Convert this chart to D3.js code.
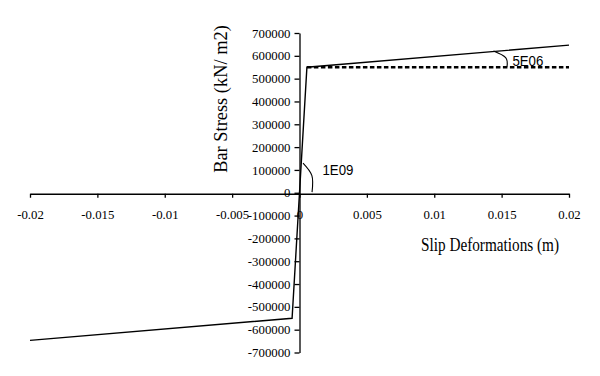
<!DOCTYPE html>
<html>
<head>
<meta charset="utf-8">
<script src="https://cdn.jsdelivr.net/npm/d3@7"></script>
<style>
  html, body { margin: 0; padding: 0; background: #fff; }
  svg { display: block; }
</style>
</head>
<body>
<svg id="chart" width="600" height="376"></svg>
<script>
// ---- data ----
const slipX = [-0.02, -0.00055, 0.00055, 0.02];
const stressY = [-647000, -550000, 550000, 647000];
const dashedX = [0.00055, 0.02];
const dashedY = [550000, 550000];
const xTicks = [-0.02, -0.015, -0.01, -0.005, 0, 0.005, 0.01, 0.015, 0.02];
const xTickLabels = ["-0.02", "-0.015", "-0.01", "-0.005", "0", "0.005", "0.01", "0.015", "0.02"];
const yTicks = [-700000, -600000, -500000, -400000, -300000, -200000, -100000, 0,
                100000, 200000, 300000, 400000, 500000, 600000, 700000];
const yTickLabels = yTicks.map(String);
const xTitle = "Slip Deformations (m)";
const yTitle = "Bar Stress (kN/ m2)";
// annotation arcs (data units) and labels
const arc1 = [[0.00026, 130000], [0.00092, 75000], [0.00093, 3000]];
const arc1Label = { text: "1E09", x: 0.0017, y: 76000 };
const arc2 = [[0.0144, 621000], [0.0153, 592000], [0.0154, 553000]];
const arc2Label = { text: "5E06", x: 0.0158, y: 555000 };

const svg = d3.select("#chart");
const x = d3.scaleLinear().domain([-0.02, 0.02]).range([30, 569]);
const y = d3.scaleLinear().domain([-700000, 700000]).range([352.5, 33]);

const serif = "'Liberation Serif', 'Times New Roman', serif";
const sans = "'Liberation Sans', Arial, sans-serif";

// x axis
const xAxis = d3.axisBottom(x)
  .tickValues(xTicks)
  .tickFormat((d, i) => xTickLabels[i])
  .tickSize(4).tickPadding(12).tickSizeOuter(0);
const gx = svg.append("g").attr("transform", `translate(0,${y(0) + 1})`).call(xAxis);
gx.select(".domain").attr("stroke", "#000").attr("stroke-width", 1.3);
gx.selectAll(".tick line").attr("stroke", "#000").attr("stroke-width", 1.3);
gx.selectAll("text").attr("font-family", serif).attr("font-size", 12.8).attr("fill", "#000");

// y axis
const yAxis = d3.axisLeft(y)
  .tickValues(yTicks)
  .tickFormat((d, i) => yTickLabels[i])
  .tickSize(5).tickPadding(4).tickSizeOuter(0);
const gy = svg.append("g").attr("transform", `translate(${x(0)},0)`).call(yAxis);
gy.select(".domain").attr("stroke", "#000").attr("stroke-width", 1.3);
gy.selectAll(".tick line").attr("stroke", "#000").attr("stroke-width", 1.3);
gy.selectAll("text").attr("font-family", serif).attr("font-size", 12.8).attr("fill", "#000");

// titles
svg.append("text")
  .attr("x", 421).attr("y", 251)
  .attr("font-family", serif).attr("font-size", 19.5)
  .attr("textLength", 138).attr("lengthAdjust", "spacingAndGlyphs")
  .attr("fill", "#000")
  .text(xTitle);
svg.append("text")
  .attr("transform", "translate(227,99) rotate(-90)")
  .attr("text-anchor", "middle")
  .attr("font-family", serif).attr("font-size", 18.4)
  .attr("fill", "#000")
  .text(yTitle);

// data lines
const line = d3.line().x(d => x(d[0])).y(d => y(d[1]));
svg.append("path")
  .datum(d3.zip(dashedX, dashedY))
  .attr("d", line)
  .attr("fill", "none").attr("stroke", "#000")
  .attr("stroke-width", 2.5).attr("stroke-dasharray", "4.5,2.5");
svg.append("path")
  .datum(d3.zip(slipX, stressY))
  .attr("d", line)
  .attr("fill", "none").attr("stroke", "#000")
  .attr("stroke-width", 1.4).attr("stroke-linejoin", "miter");

// annotations
const curve = d3.line().x(d => x(d[0])).y(d => y(d[1])).curve(d3.curveNatural);
[arc1, arc2].forEach(a => {
  svg.append("path").datum(a).attr("d", curve)
    .attr("fill", "none").attr("stroke", "#000").attr("stroke-width", 1.1);
});
[arc1Label, arc2Label].forEach(l => {
  svg.append("text")
    .attr("x", x(l.x)).attr("y", y(l.y))
    .attr("font-family", sans).attr("font-size", 15)
    .attr("textLength", 31).attr("lengthAdjust", "spacingAndGlyphs")
    .attr("fill", "#000")
    .text(l.text);
});
</script>
</body>
</html>
